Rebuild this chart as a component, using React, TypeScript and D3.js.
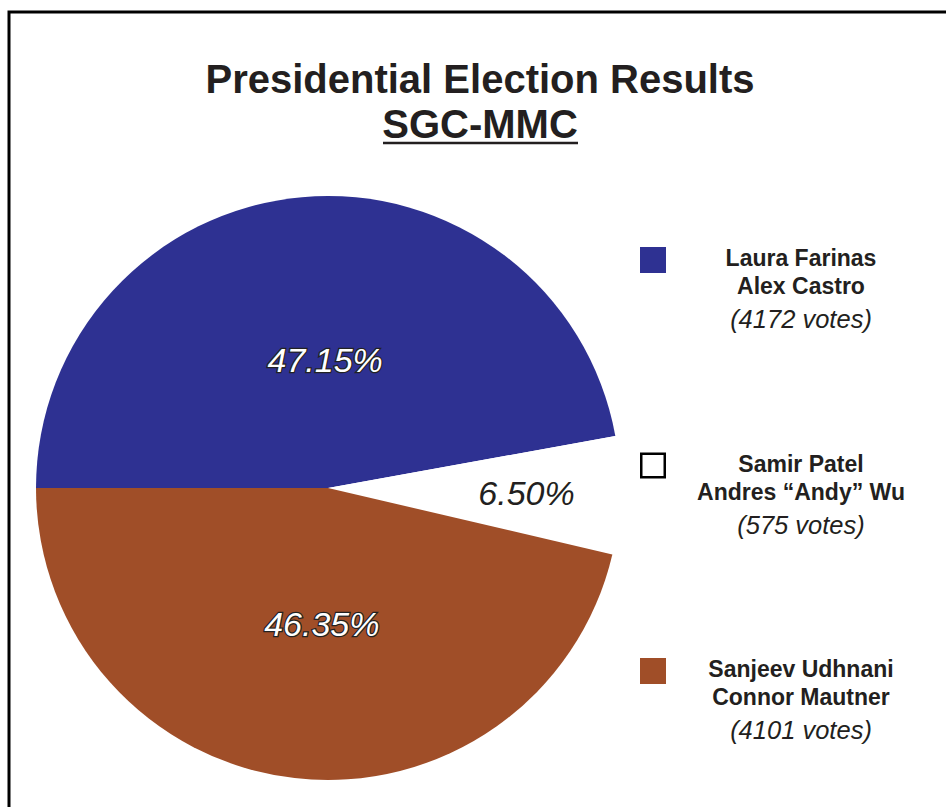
import React from "react";
import * as d3 from "d3";

const names1 = ["Laura Farinas", "Samir Patel", "Sanjeev Udhnani"];
const names2 = ["Alex Castro", "Andres \u201cAndy\u201d Wu", "Connor Mautner"];
const votes = [4172, 575, 4101];
const percentLabels = ["47.15%", "6.50%", "46.35%"];
const colors = ["#2E3192", "#FFFFFF", "#A04E28"];

const W = 946;
const H = 807;
const cx = 328;
const cy = 488;
const R = 292;
const font = "'Liberation Sans', Arial, Helvetica, sans-serif";
const ink = "#231F20";

export default function App() {
  const total = d3.sum(votes);
  const pie = d3
    .pie<number>()
    .sort(null)
    .startAngle(-Math.PI / 2)
    .endAngle((3 * Math.PI) / 2)
    .value((d) => d);
  const arcs = pie(votes);
  const arc = d3.arc<d3.PieArcDatum<number>>().innerRadius(0).outerRadius(R);

  const legendY = d3.scalePoint<number>().domain([0, 1, 2]).range([247, 658]);

  return (
    <svg
      width={W}
      height={H}
      style={{ position: "absolute", left: 0, top: 0, display: "block", background: "#fff" }}
    >
      <rect x={0} y={0} width={W} height={H} fill="#fff" />
      <rect x={9} y={12} width={W + 20} height={H + 20} fill="none" stroke="#000" strokeWidth={3} />
      <text x={480} y={93} textAnchor="middle" fontFamily={font} fontWeight="bold" fontSize={40} fill={ink}>
        Presidential Election Results
      </text>
      <text x={480} y={138} textAnchor="middle" fontFamily={font} fontWeight="bold" fontSize={40} fill={ink}>
        SGC-MMC
      </text>
      <line x1={383} x2={578} y1={143} y2={143} stroke={ink} strokeWidth={2.5} />

      <g transform={`translate(${cx},${cy})`}>
        {arcs.map((a, i) => (
          <path key={i} d={arc(a) || ""} fill={colors[i]} stroke="none" />
        ))}
        {arcs.map((a, i) => {
          const frac = a.value / total;
          const lr = frac < 0.1 ? R * 0.68 : R * 0.455;
          const c = d3.arc<d3.PieArcDatum<number>>().innerRadius(lr).outerRadius(lr).centroid(a);
          const light = colors[i] !== "#FFFFFF";
          return (
            <text
              key={"l" + i}
              x={c[0] + (light ? 9 : 0)}
              y={c[1] + (light ? 4 : 0)}
              dy="0.35em"
              textAnchor="middle"
              fontFamily={font}
              fontStyle="italic"
              fontSize={34}
              fill={light ? "#fff" : ink}
              stroke={light ? "#222" : "none"}
              strokeWidth={light ? 2.5 : 0}
              paintOrder="stroke"
            >
              {percentLabels[i]}
            </text>
          );
        })}
      </g>

      {votes.map((v, i) => {
        const y0 = legendY(i) as number;
        const hollow = colors[i] === "#FFFFFF";
        return (
          <g key={"lg" + i}>
            <rect
              x={hollow ? 641.25 : 640}
              y={hollow ? y0 + 1.25 : y0}
              width={hollow ? 23.5 : 26}
              height={hollow ? 23.5 : 26}
              fill={colors[i]}
              stroke={hollow ? "#000" : "none"}
              strokeWidth={2.5}
            />
            <text x={801} y={y0 + 19} textAnchor="middle" fontFamily={font} fontWeight="bold" fontSize={23} fill={ink}>
              {names1[i]}
            </text>
            <text x={801} y={y0 + 47} textAnchor="middle" fontFamily={font} fontWeight="bold" fontSize={23} fill={ink}>
              {names2[i]}
            </text>
            <text x={801} y={y0 + 81} textAnchor="middle" fontFamily={font} fontStyle="italic" fontSize={25.5} fill={ink}>
              {`(${v} votes)`}
            </text>
          </g>
        );
      })}
    </svg>
  );
}
